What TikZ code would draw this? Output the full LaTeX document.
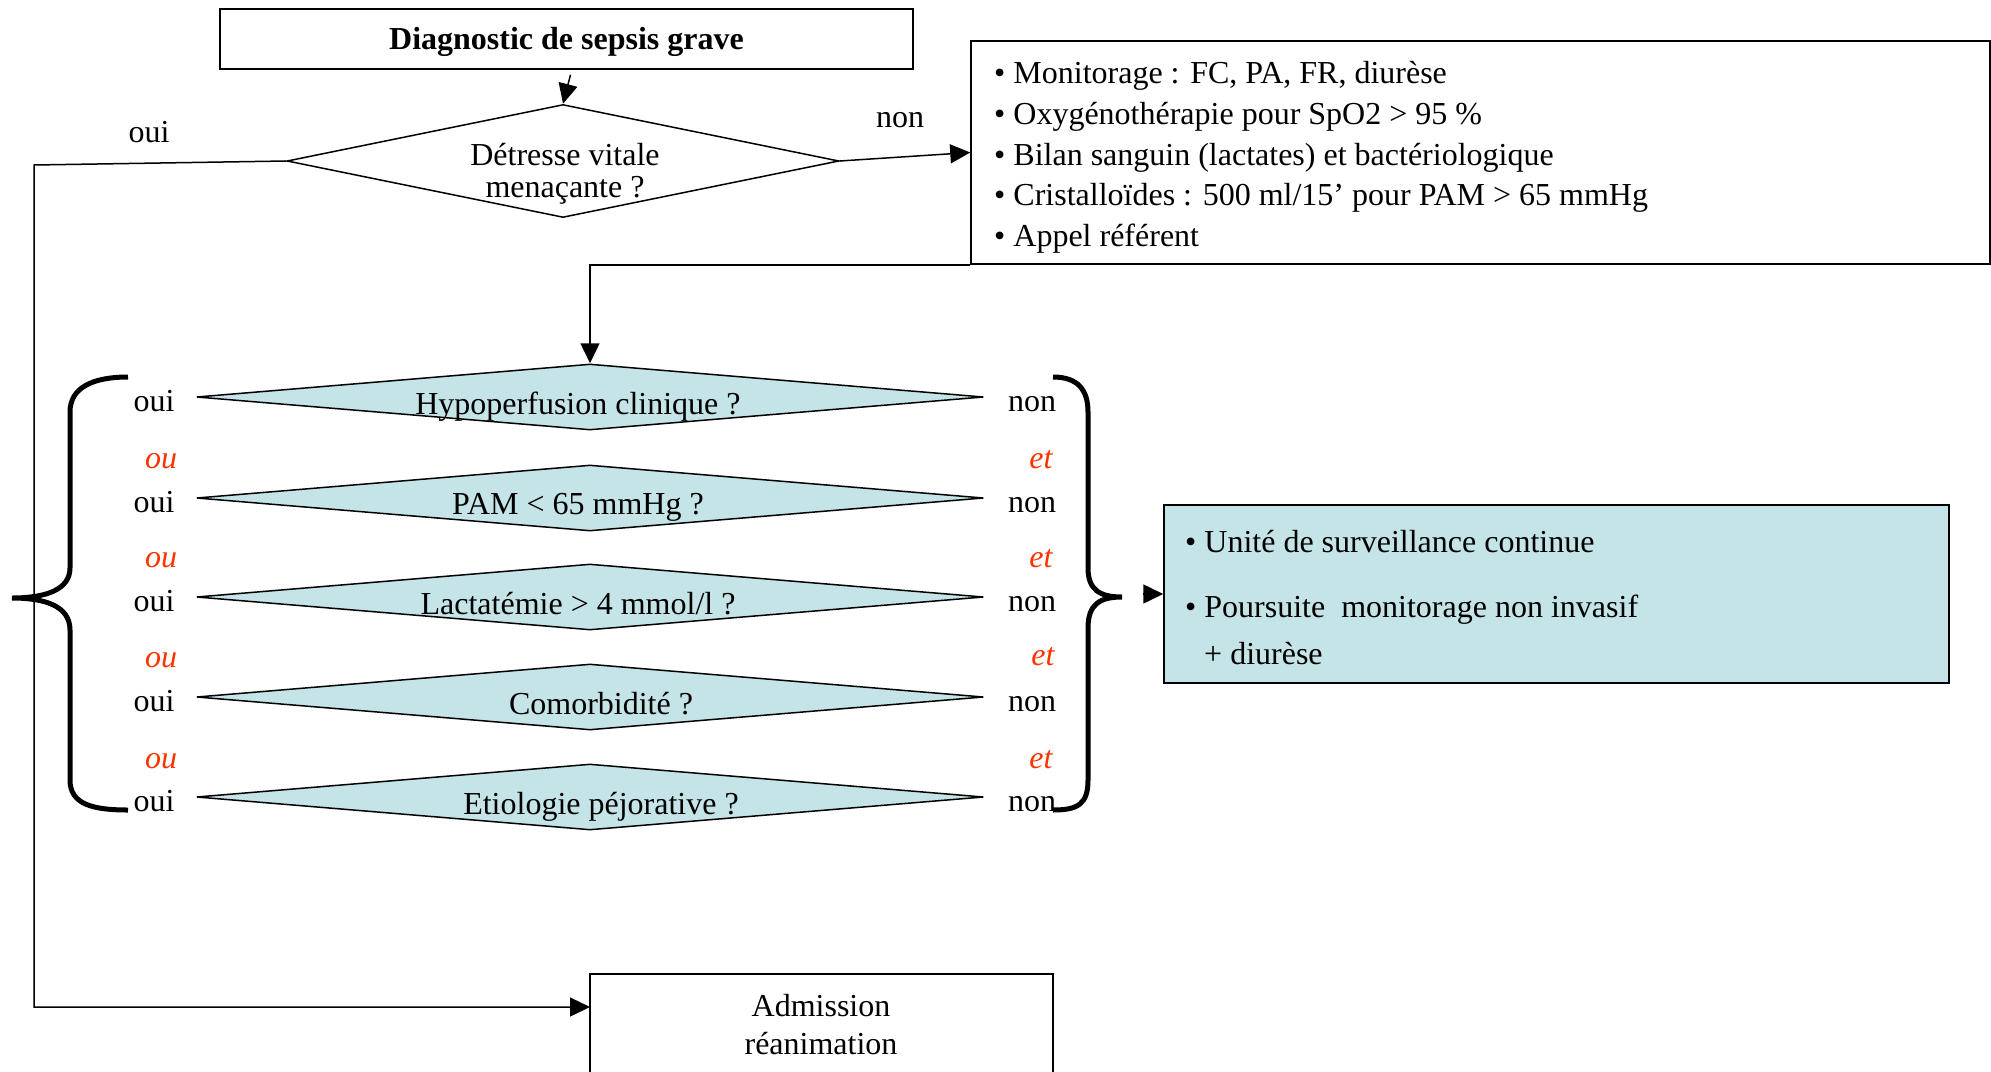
\documentclass[tikz,border=0pt]{standalone}
\usepackage{fontspec}
\setmainfont{Liberation Serif}
\usetikzlibrary{shapes.geometric,arrows.meta}
\definecolor{tealfill}{RGB}{197,228,232}
\definecolor{redo}{RGB}{255,51,0}
\begin{document}
\begin{tikzpicture}[x=1pt,y=-1pt,
  every node/.style={font=\fontsize{32}{32}\selectfont, inner sep=0pt},
  box/.style={draw, line width=1.5pt, rectangle},
  dia/.style={draw, line width=1.5pt, diamond, inner sep=0pt},
  tdia/.style={dia, fill=tealfill, minimum width=787pt, minimum height=66pt},
  txt/.style={text height=27pt, text depth=4pt},
  txtw/.style={txt, anchor=west},
  conj/.style={txt, text=redo, font=\fontsize{32}{32}\selectfont\itshape},
  arr/.style={line width=1.5pt, -{Triangle[length=20pt,width=19pt]}},
  ln/.style={line width=1.5pt},
  bracestyle/.style={line width=5pt, line cap=butt}
]
\useasboundingbox (0,0) rectangle (1991,1071);
\clip (0,0) rectangle (1991,1071);

% top box
\node[box, minimum width=693pt, minimum height=60pt, text height=24pt, text depth=3pt, font=\fontsize{32}{32}\selectfont\bfseries] (top) at (566.5,39) {Diagnostic de sepsis grave};

% first decision
\node[dia, minimum width=552pt, minimum height=113pt] (d0) at (563,161) {};
\node[align=center] (d0t) at (565,174) {Détresse vitale\\menaçante ?};
\node[txt] (oui0) at (149,131) {oui};
\node[txt] (non0) at (900,116) {non};

% right box
\node[box, minimum width=1019pt, minimum height=223pt] (b1) at (1480.5,152.5) {};
\node[txtw] (b1a) at (994,72) {• Monitorage : FC, PA, FR, diurèse};
\node[txtw] (b1b) at (994,113) {• Oxygénothérapie pour SpO2 > 95 \%};
\node[txtw] (b1c) at (994,154) {• Bilan sanguin (lactates) et bactériologique};
\node[txtw] (b1d) at (994,194) {• Cristalloïdes : 500 ml/15’ pour PAM > 65 mmHg};
\node[txtw] (b1e) at (994,235) {• Appel référent};

% teal diamonds
\node[tdia] (q1) at (590,397) {};
\node[tdia] (q2) at (590,498) {};
\node[tdia] (q3) at (590,597) {};
\node[tdia] (q4) at (590,697) {};
\node[tdia] (q5) at (590,797) {};
\node[txt] (q1t) at (578,403) {Hypoperfusion clinique ?};
\node[txt] (q2t) at (578,503) {PAM < 65 mmHg ?};
\node[txt] (q3t) at (578,603) {Lactatémie > 4 mmol/l ?};
\node[txt] (q4t) at (601,703) {Comorbidité ?};
\node[txt] (q5t) at (601,803) {Etiologie péjorative ?};

% oui / non labels
\node[txt] (o1) at (154,400) {oui};
\node[txt] (o2) at (154,501) {oui};
\node[txt] (o3) at (154,600) {oui};
\node[txt] (o4) at (154,700) {oui};
\node[txt] (o5) at (154,800) {oui};
\node[txt] (n1) at (1032,400) {non};
\node[txt] (n2) at (1032,501) {non};
\node[txt] (n3) at (1032,600) {non};
\node[txt] (n4) at (1032,700) {non};
\node[txt] (n5) at (1032,800) {non};
\node[conj] (c1) at (161,457) {ou};
\node[conj] (c2) at (161,556) {ou};
\node[conj] (c3) at (161,656) {ou};
\node[conj] (c4) at (161,757) {ou};
\node[conj] (e1) at (1041,457) {et};
\node[conj] (e2) at (1041,556) {et};
\node[conj] (e3) at (1043,654) {et};
\node[conj] (e4) at (1041,757) {et};

% braces
\draw[bracestyle] (128,377) .. controls (92,377) and (70,388) .. (70,412) -- (70,568)
  .. controls (70,590) and (45,598) .. (12,598)
  .. controls (45,598) and (70,606) .. (70,630) -- (70,780)
  .. controls (70,804) and (92,810) .. (128,810);
\draw[bracestyle] (1053,377) .. controls (1078,377) and (1088,390) .. (1088,412) -- (1088,568)
  .. controls (1088,590) and (1100,597) .. (1122,597)
  .. controls (1100,597) and (1088,604) .. (1088,628) -- (1088,780)
  .. controls (1088,804) and (1078,810) .. (1053,810);

% teal result box
\node[box, fill=tealfill, minimum width=785pt, minimum height=178pt] (tb) at (1556.5,594) {};
\node[txtw] (tba) at (1185,541) {• Unité de surveillance continue};
\node[txtw] (tbb) at (1185,606) {• Poursuite\ \ monitorage non invasif};
\node[txtw] (tbc) at (1204,653) {+ diurèse};

% admission box
\node[box, minimum width=463pt, minimum height=110pt] (adm) at (821.5,1029) {};
\node[txt] (adma) at (821,1005) {Admission};
\node[txt] (admb) at (821,1043) {réanimation};

% connectors
\coordinate (cL) at (34,165);
\coordinate (aIn) at (590,1007);
\coordinate (rbt) at (1143,594);
\draw[arr] ([xshift=4pt,yshift=-5pt]top.south) -- (d0.north);
\draw[arr] (d0.west) -- (cL) -- (cL |- aIn) -- (aIn);
\draw[arr] (d0.east) -- (b1.west);
\draw[arr] (b1.south west) -| (q1.north);
\draw[arr] (rbt) -- (tb.west);
\end{tikzpicture}
\end{document}
